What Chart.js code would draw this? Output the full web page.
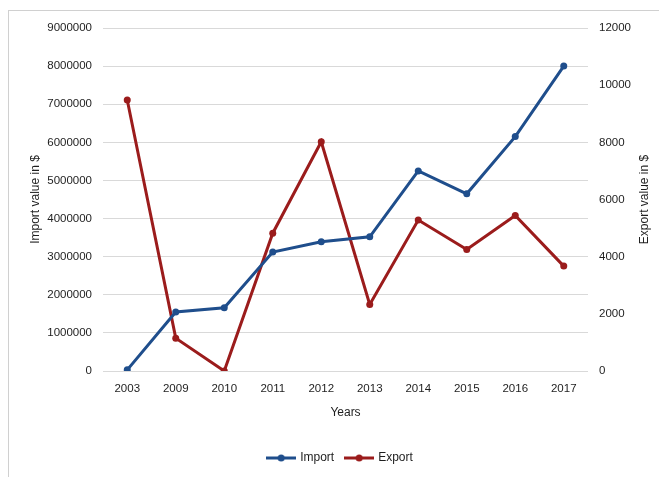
<!DOCTYPE html>
<html><head><meta charset="utf-8">
<script src="https://cdn.jsdelivr.net/npm/chart.js@4.4.0/dist/chart.umd.min.js"></script>
<style>
html,body{margin:0;padding:0;background:#fff;}
#wrap{position:relative;width:659px;height:477px;overflow:hidden;}
#frame{position:absolute;left:8px;top:10px;width:700px;height:520px;border-left:1px solid #d0d0d0;border-top:1px solid #d0d0d0;box-sizing:border-box;}
canvas{position:absolute;left:0;top:0;}
</style></head>
<body><div id="wrap"><div id="frame"></div><canvas id="c" width="659" height="477"></canvas></div>
<script>
const years = ['2003','2009','2010','2011','2012','2013','2014','2015','2016','2017'];
const importValues = [30000,1550000,1660000,3120000,3390000,3520000,5250000,4650000,6150000,8000000];
const exportValues = [9480,1150,0,4820,8020,2330,5280,4250,5440,3670];
const importColor = '#1f4e8c';
const exportColor = '#9b1c1c';
const font = {family:"'Liberation Sans', Arial, sans-serif", size:11.5};
const textColor = '#1e1e1e';

function legendIcon(color){
  const cv=document.createElement('canvas'); cv.width=30; cv.height=10;
  const g=cv.getContext('2d');
  g.strokeStyle=color; g.lineWidth=3; g.beginPath(); g.moveTo(0,5); g.lineTo(30,5); g.stroke();
  g.fillStyle=color; g.beginPath(); g.arc(15,5,3.5,0,Math.PI*2); g.fill();
  return cv;
}

const rightTitle = {
  id:'rightTitle',
  afterLayout(chart){ if(chart.legend){ chart.legend.left+=11; chart.legend.right+=11; } },
  afterDraw(chart){
    const g=chart.ctx; const a=chart.chartArea;
    g.save(); g.translate(645,(a.top+a.bottom)/2); g.rotate(-Math.PI/2);
    g.font="12px 'Liberation Sans', Arial, sans-serif"; g.fillStyle=textColor;
    g.textAlign='center'; g.textBaseline='middle';
    g.fillText('Export value in $',0,0); g.restore();
  }
};

new Chart(document.getElementById('c'),{
  type:'line',
  data:{labels:years,datasets:[
    {label:'Import',data:importValues,yAxisID:'y',borderColor:importColor,backgroundColor:importColor,borderWidth:3,pointRadius:3.5,pointBorderWidth:0,pointHoverRadius:3.5,tension:0},
    {label:'Export',data:exportValues,yAxisID:'y1',borderColor:exportColor,backgroundColor:exportColor,borderWidth:3,pointRadius:3.5,pointBorderWidth:0,pointHoverRadius:3.5,tension:0}
  ]},
  options:{
    responsive:false,animation:false,
    layout:{padding:{top:28,left:0,right:0,bottom:3}},
    plugins:{
      tooltip:{enabled:false},
      legend:{position:'bottom',labels:{color:textColor,font:{family:font.family,size:12},usePointStyle:true,pointStyleWidth:26,padding:12,
        generateLabels(chart){return chart.data.datasets.map((d,i)=>({text:d.label,pointStyle:legendIcon(d.borderColor),fillStyle:d.borderColor,strokeStyle:d.borderColor,lineWidth:0,datasetIndex:i,fontColor:textColor}));}}}
    },
    scales:{
      x:{offset:true,grid:{display:false},border:{display:false},
        ticks:{color:textColor,font:font,padding:3,maxRotation:0},
        title:{display:true,text:'Years',color:textColor,font:{family:font.family,size:12},padding:{top:0,bottom:20}},
        afterFit(s){s.height=69;}},
      y:{position:'left',min:0,max:9000000,
        ticks:{stepSize:1000000,color:textColor,font:font,padding:11,callback:v=>String(v)},
        grid:{color:'#d9d9d9',lineWidth:1,drawTicks:false},border:{display:false},
        title:{display:true,text:'Import value in $',color:textColor,font:{family:font.family,size:12},padding:{top:28,bottom:0}},
        afterFit(s){s.width=103;}},
      y1:{position:'right',min:0,max:12000,
        ticks:{stepSize:2000,color:textColor,font:font,padding:11,callback:v=>String(v)},
        grid:{display:false,drawTicks:false},border:{display:false},
        afterFit(s){s.width=71;}}
    }
  },
  plugins:[rightTitle]
});
</script></body></html>
